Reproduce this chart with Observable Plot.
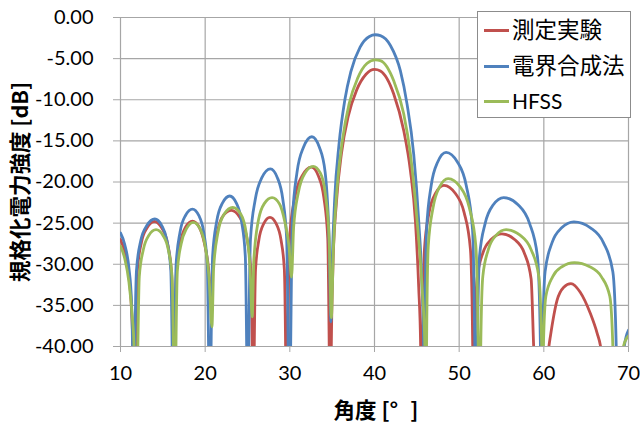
<!DOCTYPE html>
<html><head><meta charset="utf-8">
<script src="https://cdn.jsdelivr.net/npm/d3@7"></script>
<script src="https://cdn.jsdelivr.net/npm/@observablehq/plot@0.6"></script>
<style>
body{margin:0;background:#fff;}
#wrap{position:relative;width:640px;height:423px;}
.legend{position:absolute;left:477px;top:11px;width:154px;height:107px;border:1px solid #8c8c8c;background:#fff;box-sizing:border-box;font-family:Lato,"Noto Sans CJK JP",sans-serif;font-size:21px;color:#000;}
.row{position:absolute;left:0;height:24px;width:150px;}
.sw{position:absolute;left:6px;top:11px;width:25px;height:3px;}
.lb{position:absolute;left:34px;top:0;line-height:24px;white-space:nowrap;}
.lb.cjk{font-size:22.5px;}
</style>
</head><body>
<div id="wrap"></div>
<script>
const seriesNames = ["測定実験", "電界合成法", "HFSS"];
const seriesColors = ["#C0504D", "#4F81BD", "#9BBB59"];
const xTicks = [10, 20, 30, 40, 50, 60, 70];
const yTicks = [0, -5, -10, -15, -20, -25, -30, -35, -40];

// 測定実験 (red)
const redDeg = [10,10.5,11.0,11.3,11.45,11.6,11.8,11.98,12.46,13.12,14.0,14.88,15.54,16.02,16.2,16.32,16.45,16.61,17.07,17.68,18.5,19.3,19.9,20.4,20.7,20.95,21.5,22.2,23.1,24.08,24.82,25.35,25.55,25.67,25.8,25.95,26.35,26.9,27.65,28.4,28.95,29.35,29.5,29.62,29.75,29.97,30.59,31.43,32.55,33.39,34.02,34.48,34.65,34.78,34.9,35.1,35.5,36.1,36.9,37.9,39.0,40.0,40.7,42.27,43.45,44.24,44.83,45.22,45.45,45.58,45.7,45.9,46.45,47.2,48.2,49.56,50.58,51.33,51.6,51.72,51.85,52.11,52.81,53.77,55.05,56.55,57.68,58.5,58.8,59.7,60.6,60.77,61.56,62.35,63.2,64.3,65.5,66.3,66.7,67.5,70];
const redDb = [-27.0,-28.5,-31.5,-35.5,-40,-55,-40,-30.9,-27.4,-25.6,-24.8,-25.6,-27.4,-30.9,-40,-55,-40,-30.85,-27.35,-25.5,-24.75,-25.5,-27.4,-30.5,-34.2,-29.5,-25.8,-24.0,-23.45,-24.3,-26.3,-30.1,-40,-55,-40,-30.6,-27.0,-25.1,-24.3,-25.1,-27.0,-30.6,-40,-55,-40,-26.9,-21.9,-19.3,-18.2,-19.3,-21.9,-26.9,-40,-55,-40,-30,-22.5,-16.5,-12,-8.8,-6.9,-6.3,-6.5,-9.3,-13.75,-18.6,-24.7,-32.8,-40,-55,-40,-28.2,-23.7,-21.4,-20.4,-21.4,-23.7,-28.2,-40,-55,-40,-31.8,-28.6,-27.0,-26.3,-27.0,-28.6,-31.8,-40,-55,-40,-38.8,-34.4,-32.8,-32.35,-33.4,-36.0,-38.4,-40,-50,-55];

// 電界合成法 (blue)
const blueDeg = [10,10.5,11.0,11.3,11.42,11.55,11.7,11.89,12.4,13.11,14.05,14.87,15.48,15.94,16.1,16.25,16.4,16.57,17.03,17.66,18.5,19.26,19.83,20.25,20.4,20.55,20.7,20.88,21.36,22.02,22.9,23.7,24.3,24.74,24.9,25.02,25.15,25.35,25.92,26.68,27.7,28.54,29.17,29.63,29.8,29.95,30.1,30.3,30.85,31.6,32.6,33.5,34.17,34.67,34.85,35.0,35.3,35.8,36.5,37.2,38.3,39.4,40.1,40.7,41.88,43.06,43.84,44.63,45.22,45.62,45.8,45.88,45.95,46.15,46.7,47.45,48.45,49.81,50.83,51.58,51.85,52.0,52.15,52.4,53.08,54.01,55.25,56.99,58.3,59.25,59.6,59.72,59.85,60.15,60.96,62.07,63.55,65.55,67.05,68.15,68.55,68.8,69.5,70];
const blueDb = [-26.2,-27.6,-30.5,-34.5,-40,-55,-40,-30.7,-27.1,-25.3,-24.5,-25.3,-27.1,-30.7,-40,-55,-40,-30.0,-26.1,-24.1,-23.3,-24.1,-26.1,-30.0,-40,-55,-40,-29.0,-24.8,-22.6,-21.7,-22.6,-24.8,-29.0,-40,-55,-40,-27.0,-22.1,-19.5,-18.4,-19.5,-22.1,-27.0,-40,-55,-40,-24.7,-18.8,-15.8,-14.5,-15.8,-18.8,-28,-37,-30,-22,-15.5,-10,-6.6,-3.6,-2.3,-2.1,-2.2,-3.4,-6.5,-10.5,-16.6,-24.7,-32.8,-40,-55,-40,-25.8,-20.4,-17.6,-16.4,-17.6,-20.4,-25.8,-40,-55,-40,-29.1,-25.0,-22.8,-21.9,-22.8,-25.0,-29.1,-40,-55,-40,-30.9,-27.4,-25.6,-24.85,-25.6,-27.4,-30.9,-40,-55,-40,-38];

// HFSS (green)
const greenDeg = [10,10.5,11.0,11.4,11.6,11.85,12.05,12.22,12.7,13.34,14.2,15.02,15.64,16.09,16.25,16.4,16.55,16.71,17.17,17.78,18.6,19.4,20.0,20.45,20.8,21.0,21.5,22.25,23.25,24.2,24.85,25.3,25.55,25.75,26.3,27.0,27.9,28.8,29.4,29.9,30.2,30.45,31.0,31.8,32.75,33.6,34.2,34.65,34.9,35.15,35.6,36.2,37.0,38.0,39.1,40.1,40.7,42.27,43.45,44.24,45.03,45.62,45.95,46.05,46.15,46.35,46.92,47.68,48.7,50.12,51.19,51.97,52.25,52.4,52.55,52.79,53.45,54.35,55.55,57.23,58.49,59.41,59.75,59.85,59.95,60.24,61.05,62.14,63.6,65.42,66.79,67.79,68.15,68.35,69.4,70];
const greenDb = [-27.8,-29.3,-32.2,-36.5,-40,-55,-40,-31.5,-28.2,-26.5,-25.8,-26.5,-28.2,-31.5,-40,-55,-40,-30.9,-27.5,-25.7,-24.9,-25.7,-27.8,-31.5,-37.6,-30.5,-26.2,-23.9,-23.1,-23.9,-26.2,-30.5,-36.4,-29.5,-24.6,-22.6,-21.9,-22.7,-24.8,-27.8,-31.55,-25.5,-21.3,-18.9,-18.1,-18.9,-21.5,-27,-36.5,-28,-20.5,-15,-10.5,-7.4,-5.6,-5.15,-5.25,-7.7,-11.7,-16.6,-24.7,-32.8,-40,-55,-40,-27.8,-23.1,-20.6,-19.6,-20.6,-23.1,-27.8,-40,-55,-40,-31.5,-28.2,-26.5,-25.8,-26.5,-28.2,-31.5,-40,-55,-40,-33.9,-31.5,-30.3,-29.8,-30.3,-31.5,-33.9,-40,-55,-40,-38.7];

const rows = [];
function addSeries(name, xs, ys) { xs.forEach((x, i) => rows.push({series: name, deg: x, db: ys[i]})); }
addSeries(seriesNames[0], redDeg, redDb);
addSeries(seriesNames[1], blueDeg, blueDb);
addSeries(seriesNames[2], greenDeg, greenDb);

const gridColor = "#a6a6a6";
const chart = Plot.plot({
  width: 640, height: 423,
  marginLeft: 120, marginRight: 12, marginTop: 17, marginBottom: 77,
  style: {fontFamily: 'Lato, "Noto Sans CJK JP", sans-serif', fontSize: "20px", background: "white", color: "black"},
  x: {domain: [10, 70], label: null},
  y: {domain: [-40, 0], label: null},
  color: {domain: seriesNames, range: seriesColors},
  marks: [
    Plot.gridX(xTicks, {stroke: gridColor, strokeOpacity: 1, strokeWidth: 1.2}),
    Plot.gridY(yTicks, {stroke: gridColor, strokeOpacity: 1, strokeWidth: 1.2}),
    Plot.axisX(xTicks, {tickSize: 6, tickPadding: 13, stroke: gridColor, label: null, fontSize: 20}),
    Plot.axisY(yTicks, {tickSize: 7, tickPadding: 20, stroke: gridColor, label: null, fontSize: 20, tickFormat: d => d.toFixed(2)}),
    Plot.line(rows, {x: "deg", y: "db", z: "series", stroke: "series", strokeWidth: 2.8, curve: "monotone-x", clip: true})
  ]
});

const svg = d3.select(chart);
svg.append("text")
  .attr("transform", "translate(20,182) rotate(-90)")
  .attr("text-anchor", "middle").attr("dy", "0.36em")
  .style("font-family", '"Noto Sans CJK JP", sans-serif').style("font-weight", "bold").style("font-size", "21.5px")
  .attr("fill", "black")
  .text("規格化電力強度 [dB]");
const xt = svg.append("text")
  .attr("x", 376).attr("y", 410)
  .attr("text-anchor", "middle").attr("dy", "0.36em")
  .style("font-family", '"Noto Sans CJK JP", sans-serif').style("font-weight", "bold").style("font-size", "21.5px")
  .attr("fill", "black");
xt.append("tspan").text("角度 [°");
xt.append("tspan").attr("dx", 12).text("]");

const wrap = document.getElementById("wrap");
wrap.appendChild(chart);

const legend = document.createElement("div");
legend.className = "legend";
const rowTops = [6, 42, 77];
seriesNames.forEach((name, i) => {
  const r = document.createElement("div");
  r.className = "row";
  r.style.top = rowTops[i] + "px";
  const sw = document.createElement("div");
  sw.className = "sw";
  sw.style.background = seriesColors[i];
  const lb = document.createElement("div");
  lb.className = i < 2 ? "lb cjk" : "lb";
  lb.textContent = name;
  r.appendChild(sw); r.appendChild(lb);
  legend.appendChild(r);
});
wrap.appendChild(legend);
</script>
</body></html>
